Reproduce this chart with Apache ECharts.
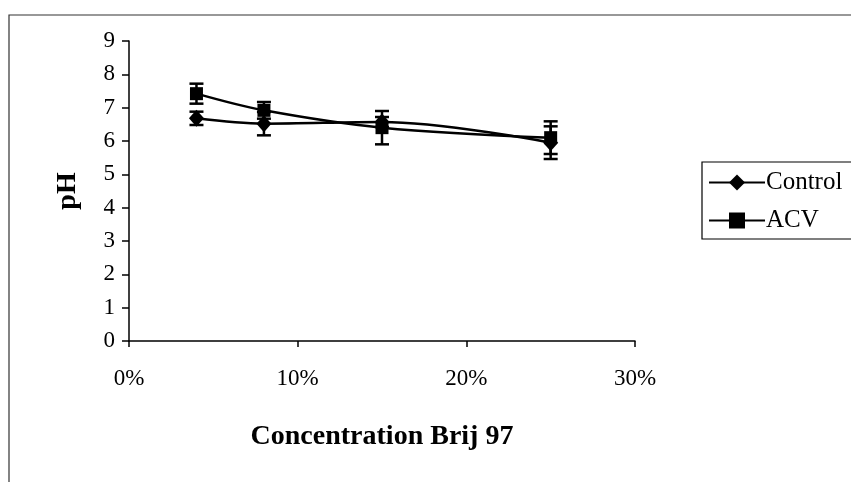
<!DOCTYPE html>
<html>
<head>
<meta charset="utf-8">
<script src="https://cdn.jsdelivr.net/npm/echarts@6/dist/echarts.min.js"></script>
<style>
  html, body { margin: 0; padding: 0; background: #fff; }
  #chart { width: 851px; height: 482px; }
</style>
</head>
<body>
<div id="chart"></div>
<script>
// Brij 97 concentration (fraction) and measured pH with standard deviations
const concentrations = [0.04, 0.08, 0.15, 0.25];
const controlPH  = [6.68, 6.52, 6.57, 5.95];
const controlErr = [0.20, 0.35, 0.15, 0.49];
const acvPH      = [7.42, 6.92, 6.40, 6.10];
const acvErr     = [0.30, 0.25, 0.50, 0.49];
const yTicks = [0, 1, 2, 3, 4, 5, 6, 7, 8, 9];
const xTicks = [0, 0.1, 0.2, 0.3];

const FONT = '"Liberation Serif", "Times New Roman", serif';

const chart = echarts.init(document.getElementById('chart'), null, { renderer: 'canvas' });

function pairs(xs, ys) { return xs.map((x, i) => [x, ys[i]]); }
function errRows(xs, ys, es) { return xs.map((x, i) => [x, ys[i] - es[i], ys[i] + es[i]]); }

// Vertical error bar with horizontal caps, placed through the chart's own coordinate system
function errorBarRenderer(params, api) {
  const x = api.value(0);
  const lo = api.coord([x, api.value(1)]);
  const hi = api.coord([x, api.value(2)]);
  const half = 7;
  const style = { stroke: '#000', lineWidth: 2.5 };
  return {
    type: 'group',
    children: [
      { type: 'line', shape: { x1: lo[0], y1: lo[1], x2: hi[0], y2: hi[1] }, style },
      { type: 'line', shape: { x1: lo[0] - half, y1: lo[1], x2: lo[0] + half, y2: lo[1] }, style },
      { type: 'line', shape: { x1: hi[0] - half, y1: hi[1], x2: hi[0] + half, y2: hi[1] }, style }
    ]
  };
}

const option = {
  backgroundColor: '#fff',
  animation: false,
  grid: { left: 129, right: 216, top: 41, bottom: 141, containLabel: false },
  xAxis: {
    type: 'value',
    min: xTicks[0],
    max: xTicks[xTicks.length - 1],
    interval: 0.1,
    name: 'Concentration Brij 97',
    nameLocation: 'middle',
    nameGap: 82,
    nameTextStyle: { fontFamily: FONT, fontSize: 28, fontWeight: 'bold', color: '#000' },
    axisLine: { lineStyle: { color: '#000', width: 1.5 } },
    axisTick: { show: true, inside: false, length: 6, lineStyle: { color: '#000', width: 1.5 } },
    axisLabel: {
      margin: 26,
      fontFamily: FONT, fontSize: 23, color: '#000',
      formatter: v => Math.round(v * 100) + '%'
    },
    splitLine: { show: false }
  },
  yAxis: {
    type: 'value',
    min: yTicks[0],
    max: yTicks[yTicks.length - 1],
    interval: 1,
    name: 'pH',
    nameLocation: 'middle',
    nameGap: 47,
    nameRotate: 90,
    nameTextStyle: { fontFamily: FONT, fontSize: 28, fontWeight: 'bold', color: '#000' },
    axisLine: { show: true, lineStyle: { color: '#000', width: 1.5 } },
    axisTick: { show: true, inside: false, length: 7, lineStyle: { color: '#000', width: 1.5 } },
    axisLabel: { margin: 14, fontFamily: FONT, fontSize: 23, color: '#000' },
    splitLine: { show: false }
  },
  legend: {
    left: 702,
    top: 162,
    orient: 'vertical',
    data: ['Control', 'ACV'],
    itemWidth: 56,
    itemHeight: 20,
    itemGap: 13,
    padding: [8, 20, 6, 6],
    borderColor: '#000',
    borderWidth: 1.2,
    textStyle: { fontFamily: FONT, fontSize: 25, color: '#000', padding: [0, 0, 0, -4] }
  },
  graphic: [
    {
      type: 'polyline',
      silent: true,
      shape: { points: [[9, 482], [9, 15], [851, 15]] },
      style: { stroke: '#333', lineWidth: 1.2, fill: null }
    }
  ],
  series: [
    {
      name: 'Control',
      type: 'line',
      data: pairs(concentrations, controlPH),
      smooth: 0.35,
      symbol: 'diamond',
      symbolSize: [15, 17],
      lineStyle: { color: '#000', width: 2.5 },
      itemStyle: { color: '#000' },
      z: 3
    },
    {
      name: 'ACV',
      type: 'line',
      data: pairs(concentrations, acvPH),
      smooth: 0.35,
      symbol: 'rect',
      symbolSize: 13,
      lineStyle: { color: '#000', width: 2.5 },
      itemStyle: { color: '#000' },
      z: 3
    },
    {
      name: 'Control error',
      type: 'custom',
      renderItem: errorBarRenderer,
      data: errRows(concentrations, controlPH, controlErr),
      encode: { x: 0, y: [1, 2] },
      z: 4
    },
    {
      name: 'ACV error',
      type: 'custom',
      renderItem: errorBarRenderer,
      data: errRows(concentrations, acvPH, acvErr),
      encode: { x: 0, y: [1, 2] },
      z: 4
    }
  ]
};

chart.setOption(option);
</script>
</body>
</html>
